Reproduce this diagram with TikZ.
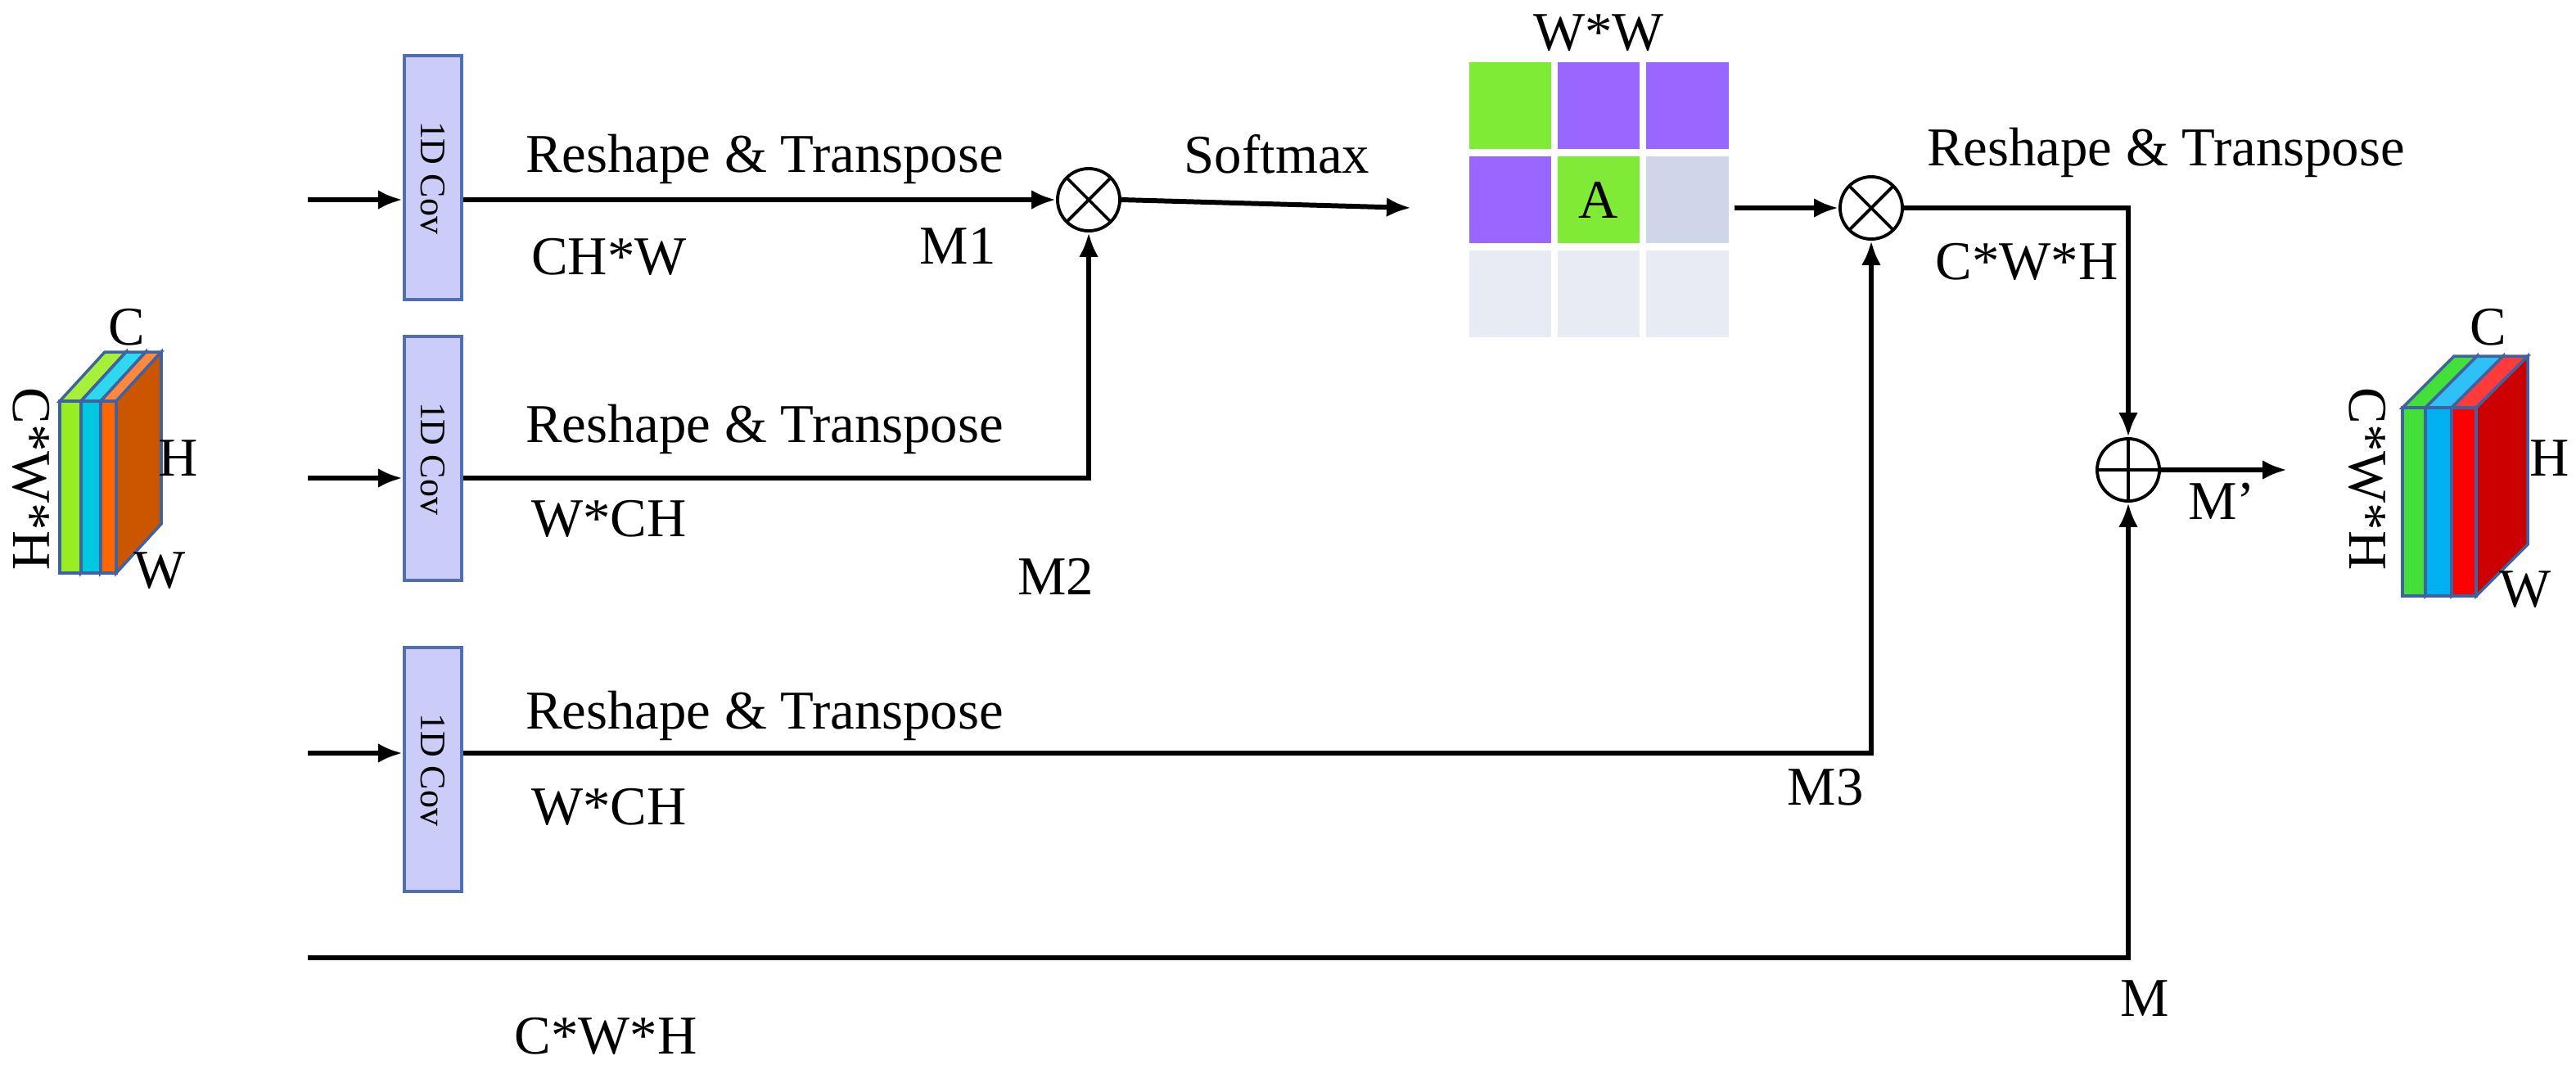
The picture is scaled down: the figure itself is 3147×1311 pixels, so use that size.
\documentclass[tikz,border=0pt]{standalone}
\usepackage{fontspec}
\setmainfont{Liberation Serif}
\usetikzlibrary{positioning,arrows.meta}

\definecolor{convfill}{HTML}{CCCCF8}
\definecolor{convline}{HTML}{4F6FAF}
\definecolor{edgeblue}{HTML}{3F63A0}
\definecolor{mgreen}{HTML}{80EB37}
\definecolor{mpurple}{HTML}{9966FF}
\definecolor{mgrey}{HTML}{D0D6EA}
\definecolor{mlight}{HTML}{E8EAF4}
\definecolor{lgreen}{HTML}{99EE22}
\definecolor{lgreentop}{HTML}{A6F03A}
\definecolor{lgreenside}{HTML}{5A8F50}
\definecolor{lcyan}{HTML}{00C8E0}
\definecolor{lcyantop}{HTML}{2ED8EE}
\definecolor{lcyanside}{HTML}{2A6AA8}
\definecolor{lorange}{HTML}{FF6600}
\definecolor{lorangetop}{HTML}{FF8840}
\definecolor{lorangeside}{HTML}{CC5500}
\definecolor{rgreen}{HTML}{44E03A}
\definecolor{rgreenside}{HTML}{2FA82A}
\definecolor{rblue}{HTML}{00B0F0}
\definecolor{rbluetop}{HTML}{30C0F8}
\definecolor{rblueside}{HTML}{2066A8}
\definecolor{rred}{HTML}{FF0000}
\definecolor{rredtop}{HTML}{FF3A3A}
\definecolor{rredside}{HTML}{CC0000}

\newcommand{\slab}[5]{% x, width, front colour, top colour, side colour
  \fill[#4,draw=edgeblue,line width=1pt] (#1,\cubetop) -- ++(\cubedx,-\cubedy) -- ++(#2,0) -- ++(-\cubedx,\cubedy) -- cycle;
  \fill[#5,draw=edgeblue,line width=1pt] (#1+#2,\cubetop) -- ++(\cubedx,-\cubedy) -- ++(0,\cubeh) -- ++(-\cubedx,\cubedy) -- cycle;
  \fill[#3,draw=edgeblue,line width=1pt] (#1,\cubetop) rectangle ++(#2,\cubeh);
}

\begin{document}
\begin{tikzpicture}[
  x=0.01cm,
  y=-0.01cm,
  font=\fontsize{19pt}{22pt}\selectfont,
  flow/.style={line width=1.7pt},
  arrow/.style={flow,-{Latex[length=0.3cm,width=0.24cm]}},
  conv/.style={
    draw=convline,
    line width=1.2pt,
    fill=convfill,
    minimum width=0.7cm,
    minimum height=2.98cm
  },
  times/.style={
    circle,
    draw,
    line width=1.1pt,
    minimum size=0.76cm,
    path picture={
      \draw[line width=1.1pt]
        (path picture bounding box.north west) -- (path picture bounding box.south east)
        (path picture bounding box.north east) -- (path picture bounding box.south west);
    }
  },
  plus/.style={
    circle,
    draw,
    line width=1.1pt,
    minimum size=0.76cm,
    path picture={
      \draw[line width=1.1pt]
        (path picture bounding box.north) -- (path picture bounding box.south)
        (path picture bounding box.east) -- (path picture bounding box.west);
    }
  },
  cell/.style={draw=white,line width=2pt,minimum width=1.08cm, minimum height=1.12cm, inner sep=0pt}
]
  \useasboundingbox (0,0) rectangle (3147,1311);

  % input cube
  \def\cubetop{490}\def\cubeh{210}\def\cubedx{55}\def\cubedy{60}
  \slab{73}{26}{lgreen}{lgreentop}{lgreenside}
  \slab{99}{24}{lcyan}{lcyantop}{lcyanside}
  \slab{123}{19}{lorange}{lorangetop}{lorangeside}
  \node (inC) at (155,400) {C};
  \node (inH) at (218,560) {H};
  \node (inW) at (195,697) {W};
  \node[rotate=-90] (inCWH) at (38,585) {C*W*H};

  % 1D convolutions
  \node[conv,label={[rotate=-90,font=\fontsize{12.5pt}{14pt}\selectfont]center:1D Cov}] (conv1) at (529,217) {};
  \node[conv,label={[rotate=-90,font=\fontsize{12.5pt}{14pt}\selectfont]center:1D Cov}] (conv2) at (529,560) {};
  \node[conv,label={[rotate=-90,font=\fontsize{12.5pt}{14pt}\selectfont]center:1D Cov}] (conv3) at (529,940) {};
  \coordinate (in1) at (376,244);
  \coordinate (in2) at (376,584);
  \coordinate (in3) at (376,920);
  \coordinate (in4) at (376,1170);
  \draw[arrow] (in1) -- (in1 -| conv1.west);
  \draw[arrow] (in2) -- (in2 -| conv2.west);
  \draw[arrow] (in3) -- (in3 -| conv3.west);

  % products and sum
  \node[times] (mul1) at (1330,244) {};
  \node[times] (mul2) at (2286,254) {};
  \node[plus] (add) at (2600,574) {};

  % attention map
  \foreach \r/\c/\col in {1/1/mgreen,1/2/mpurple,1/3/mpurple,
                          2/1/mpurple,2/2/mgreen,2/3/mgrey,
                          3/1/mlight,3/2/mlight,3/3/mlight}
    \node[cell,fill=\col] (c-\r-\c) at (1845+108*\c-108,129+115*\r-115) {};
  \node at (c-2-2) {A};
  \node (ww) at (1953,40) {W*W};

  % connectors
  \draw[arrow] (conv1.east |- in1) -- (mul1.west);
  \draw[arrow] (conv2.east |- in2) -| (mul1.south);
  \coordinate (smx) at (1724,254);
  \draw[arrow] (mul1.east) -- (smx);
  \draw[arrow] (c-2-3.east |- mul2) -- (mul2.west);
  \draw[arrow] (conv3.east |- in3) -| (mul2.south);
  \draw[arrow] (mul2.east) -| (add.north);
  \draw[arrow] (in4) -| (add.south);
  \coordinate (out) at (2794,574);
  \draw[arrow] (add.east) -- (out);

  % labels
  \node (rt1) at (934,194) {Reshape \& Transpose};
  \node (chw) at (744,314) {CH*W};
  \node (m1) at (1170,300) {M1};
  \node (soft) at (1560,188) {Softmax};
  \node (rt2) at (934,524) {Reshape \& Transpose};
  \node (wch2) at (744,634) {W*CH};
  \node (m2) at (1290,704) {M2};
  \node (rt3) at (934,874) {Reshape \& Transpose};
  \node (wch3) at (744,986) {W*CH};
  \node (m3) at (2230,962) {M3};
  \node (rt4) at (2646,186) {Reshape \& Transpose};
  \node (cwh1) at (2476,320) {C*W*H};
  \node (m) at (2620,1220) {M};
  \node (cwh2) at (740,1266) {C*W*H};
  \node (mout) at (2714,612) {M'};

  % output cube
  \def\cubetop{498}\def\cubeh{230}\def\cubedx{63}\def\cubedy{63}
  \slab{2935}{28}{rgreen}{rgreen}{rgreenside}
  \slab{2963}{32}{rblue}{rbluetop}{rblueside}
  \slab{2995}{30}{rred}{rredtop}{rredside}
  \node (outC) at (3040,400) {C};
  \node (outH) at (3115,560) {H};
  \node (outW) at (3085,720) {W};
  \node[rotate=-90] (outCWH) at (2892,585) {C*W*H};
\end{tikzpicture}
\end{document}
